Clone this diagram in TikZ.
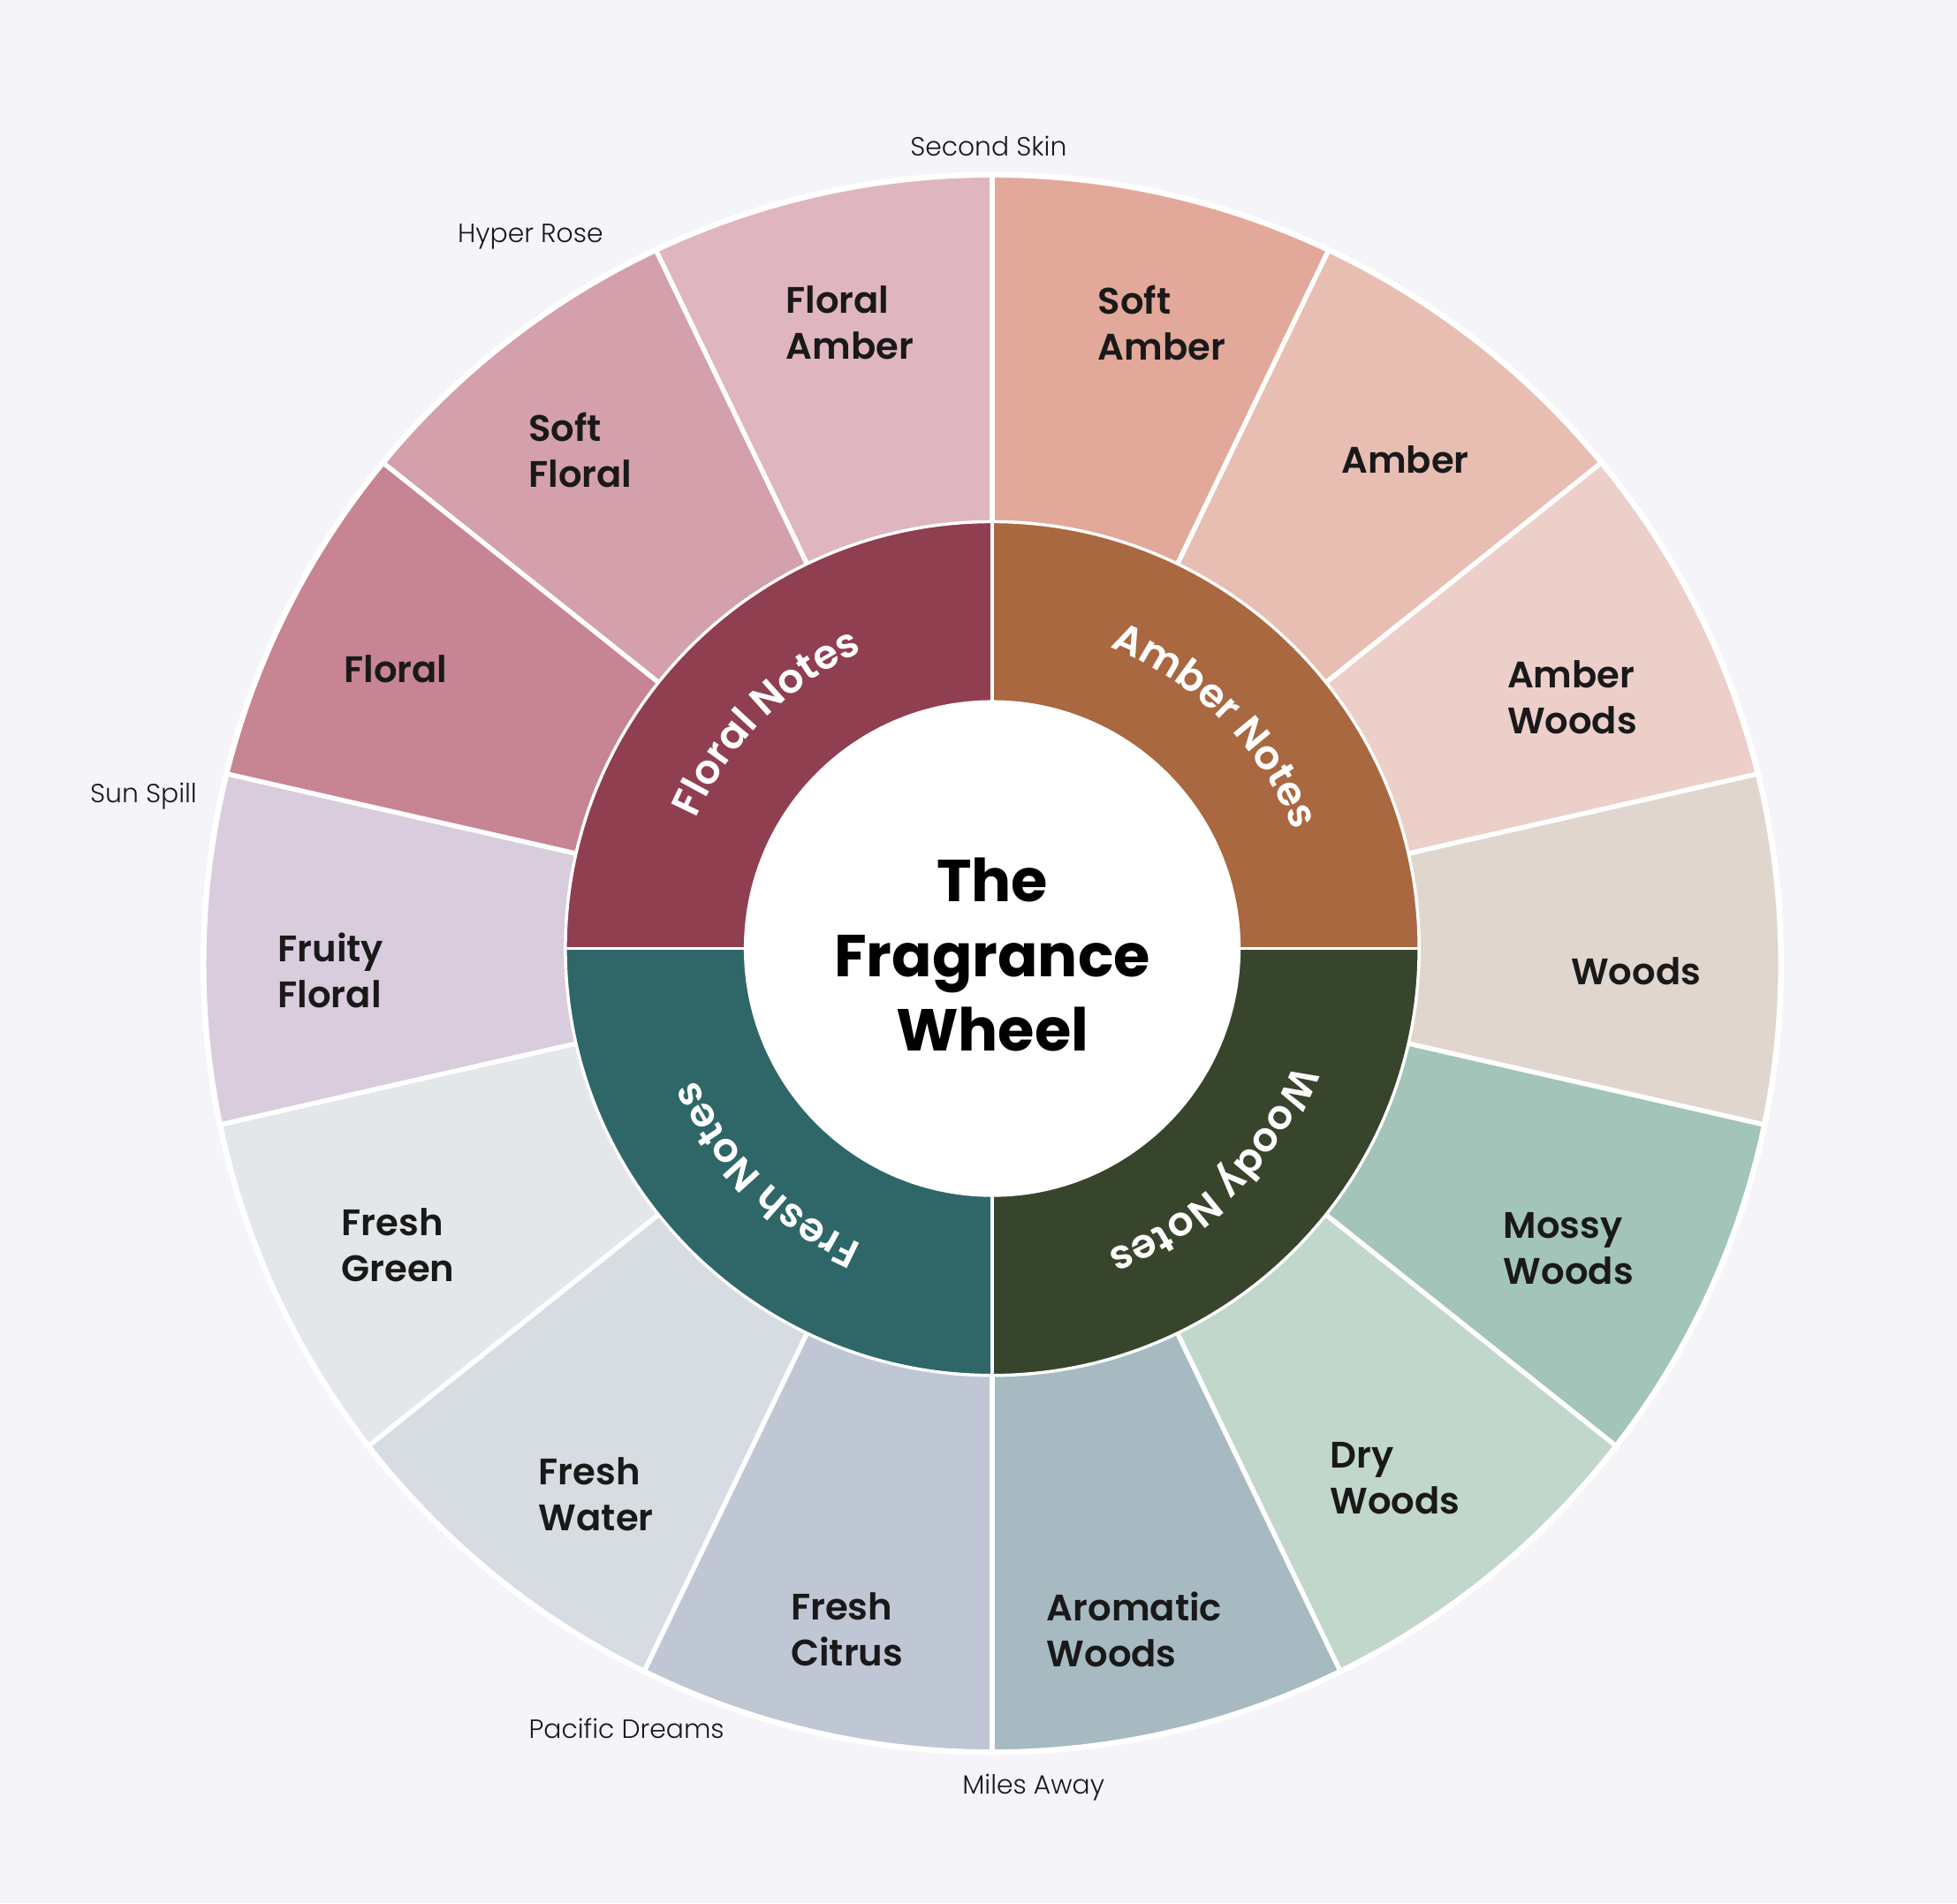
\documentclass[tikz,border=0pt]{standalone}
\usepackage{fontspec}
\setmainfont{Poppins}[BoldFont={Poppins SemiBold}]
\newfontfamily\titlefont{Poppins}
\newfontfamily\lightfont{Poppins Light}
\usetikzlibrary{decorations.text}

\definecolor{canvas}{HTML}{F5F4F8}
\definecolor{floralnotes}{HTML}{8F3F50}
\definecolor{ambernotes}{HTML}{A96840}
\definecolor{woodynotes}{HTML}{37452C}
\definecolor{freshnotes}{HTML}{2F6769}
\definecolor{softamber}{HTML}{E2A89A}
\definecolor{amber}{HTML}{E8BEB3}
\definecolor{amberwoods}{HTML}{EDCFC9}
\definecolor{woods}{HTML}{E0D6CD}
\definecolor{mossywoods}{HTML}{A3C4B8}
\definecolor{drywoods}{HTML}{C1D7CB}
\definecolor{aromaticwoods}{HTML}{A7BAC1}
\definecolor{freshcitrus}{HTML}{BFC7D4}
\definecolor{freshwater}{HTML}{D6DCE2}
\definecolor{freshgreen}{HTML}{E4E7E9}
\definecolor{fruityfloral}{HTML}{D9CCDC}
\definecolor{floral}{HTML}{C78492}
\definecolor{softfloral}{HTML}{D3A0AB}
\definecolor{floralamber}{HTML}{DFB5BF}

\begin{document}
\begin{tikzpicture}[
        wedge/.style={fill=#1},
        sep/.style={white, line width=1.1pt},
        thinsep/.style={white, line width=0.7pt},
        family/.style={anchor=west, align=left, inner sep=0pt, text=black!90, font=\bfseries\fontsize{8.4}{10.5}\selectfont},
        perfume/.style={text=black!90, font=\lightfont\fontsize{6}{7}\selectfont},
        title/.style={align=center, text=black, font=\titlefont\bfseries\fontsize{13.5}{17}\selectfont},
        ringtext/.style={decorate, decoration={text along path, text align=center, text color=white,
            text={|\bfseries\fontsize{9.2}{10}\selectfont|#1}}}
    ]

        % Canvas
        \fill[canvas] (0,0) rectangle (15.68,15.25);
        \coordinate (hub) at (7.95,7.65);
        \coordinate (rim) at (7.95,7.53);

        % Outer families
        \begin{scope}
            \clip (rim) circle[radius=6.32];
            \fill[wedge=softamber] (hub) -- ++(90:7) arc[start angle=90, delta angle=-25.714, radius=7] -- cycle;
            \fill[wedge=amber] (hub) -- ++(64.286:7) arc[start angle=64.286, delta angle=-25.714, radius=7] -- cycle;
            \fill[wedge=amberwoods] (hub) -- ++(38.571:7) arc[start angle=38.571, delta angle=-25.714, radius=7] -- cycle;
            \fill[wedge=woods] (hub) -- ++(12.857:7) arc[start angle=12.857, delta angle=-25.714, radius=7] -- cycle;
            \fill[wedge=mossywoods] (hub) -- ++(-12.857:7) arc[start angle=-12.857, delta angle=-25.714, radius=7] -- cycle;
            \fill[wedge=drywoods] (hub) -- ++(-38.571:7) arc[start angle=-38.571, delta angle=-25.714, radius=7] -- cycle;
            \fill[wedge=aromaticwoods] (hub) -- ++(-64.286:7) arc[start angle=-64.286, delta angle=-25.714, radius=7] -- cycle;
            \fill[wedge=freshcitrus] (hub) -- ++(-90:7) arc[start angle=-90, delta angle=-25.714, radius=7] -- cycle;
            \fill[wedge=freshwater] (hub) -- ++(-115.714:7) arc[start angle=-115.714, delta angle=-25.714, radius=7] -- cycle;
            \fill[wedge=freshgreen] (hub) -- ++(-141.429:7) arc[start angle=-141.429, delta angle=-25.714, radius=7] -- cycle;
            \fill[wedge=fruityfloral] (hub) -- ++(-167.143:7) arc[start angle=-167.143, delta angle=-25.714, radius=7] -- cycle;
            \fill[wedge=floral] (hub) -- ++(167.143:7) arc[start angle=167.143, delta angle=-25.714, radius=7] -- cycle;
            \fill[wedge=softfloral] (hub) -- ++(141.429:7) arc[start angle=141.429, delta angle=-25.714, radius=7] -- cycle;
            \fill[wedge=floralamber] (hub) -- ++(115.714:7) arc[start angle=115.714, delta angle=-25.714, radius=7] -- cycle;
            \draw[sep] (hub) +(90:7) -- +(270:7);
            \draw[sep] (hub) +(64.286:7) -- +(244.286:7);
            \draw[sep] (hub) +(38.571:7) -- +(218.571:7);
            \draw[sep] (hub) +(12.857:7) -- +(192.857:7);
            \draw[sep] (hub) +(-12.857:7) -- +(167.143:7);
            \draw[sep] (hub) +(-38.571:7) -- +(141.429:7);
            \draw[sep] (hub) +(-64.286:7) -- +(115.714:7);
        \end{scope}
        \draw[white, line width=1.3pt] (rim) circle[radius=6.32];

        % Note groups
        \fill[floralnotes] (hub) -- ++(90:3.42) arc[start angle=90, end angle=180, radius=3.42] -- cycle;
        \fill[ambernotes] (hub) -- ++(0:3.42) arc[start angle=0, end angle=90, radius=3.42] -- cycle;
        \fill[woodynotes] (hub) -- ++(-90:3.42) arc[start angle=-90, end angle=0, radius=3.42] -- cycle;
        \fill[freshnotes] (hub) -- ++(180:3.42) arc[start angle=180, end angle=270, radius=3.42] -- cycle;
        \draw[thinsep] (hub) circle[radius=3.42];
        \draw[thinsep] (hub) +(90:3.42) -- +(270:3.42);
        \draw[thinsep] (hub) +(0:3.42) -- +(180:3.42);
        \fill[white] (hub) circle[radius=1.99];

        \path[ringtext={Floral Notes}] (hub) ++(180:2.59) arc[start angle=180, end angle=90, radius=2.59];
        \path[ringtext={Amber Notes}] (hub) ++(90:2.59) arc[start angle=90, end angle=0, radius=2.59];
        \path[ringtext={Woody Notes}] (hub) ++(0:2.59) arc[start angle=0, end angle=-90, radius=2.59];
        \path[ringtext={Fresh Notes}] (hub) ++(-90:2.59) arc[start angle=-90, end angle=-180, radius=2.59];

        \node[title] (wheel) at (7.95,7.60) {The\\Fragrance\\Wheel};

        % Family labels
        \node[family] (lsoftamber) at (8.79,12.665) {Soft\\Amber};
        \node[family] (lamber) at (10.74,11.57) {Amber};
        \node[family] (lamberwoods) at (12.07,9.665) {Amber\\Woods};
        \node[family] (lwoods) at (12.58,7.47) {Woods};
        \node[family] (lmossywoods) at (12.04,5.245) {Mossy\\Woods};
        \node[family] (ldrywoods) at (10.65,3.405) {Dry\\Woods};
        \node[family] (laromaticwoods) at (8.38,2.195) {Aromatic\\Woods};
        \node[family] (lfreshcitrus) at (6.33,2.195) {Fresh\\Citrus};
        \node[family] (lfreshwater) at (4.31,3.275) {Fresh\\Water};
        \node[family] (lfreshgreen) at (2.73,5.275) {Fresh\\Green};
        \node[family] (lfruityfloral) at (2.22,7.475) {Fruity\\Floral};
        \node[family] (lfloral) at (2.75,9.89) {Floral};
        \node[family] (lsoftfloral) at (4.23,11.645) {Soft\\Floral};
        \node[family] (lfloralamber) at (6.29,12.665) {Floral\\Amber};

        % Perfumes
        \node[perfume] (secondskin) at (7.92,14.08) {Second Skin};
        \node[perfume] (hyperrose) at (4.25,13.35) {Hyper Rose};
        \node[perfume] (sunspill) at (1.15,8.87) {Sun Spill};
        \node[perfume] (pacificdreams) at (5.02,1.40) {Pacific Dreams};
        \node[perfume] (milesaway) at (8.28,0.93) {Miles Away};

    \end{tikzpicture}
\end{document}
